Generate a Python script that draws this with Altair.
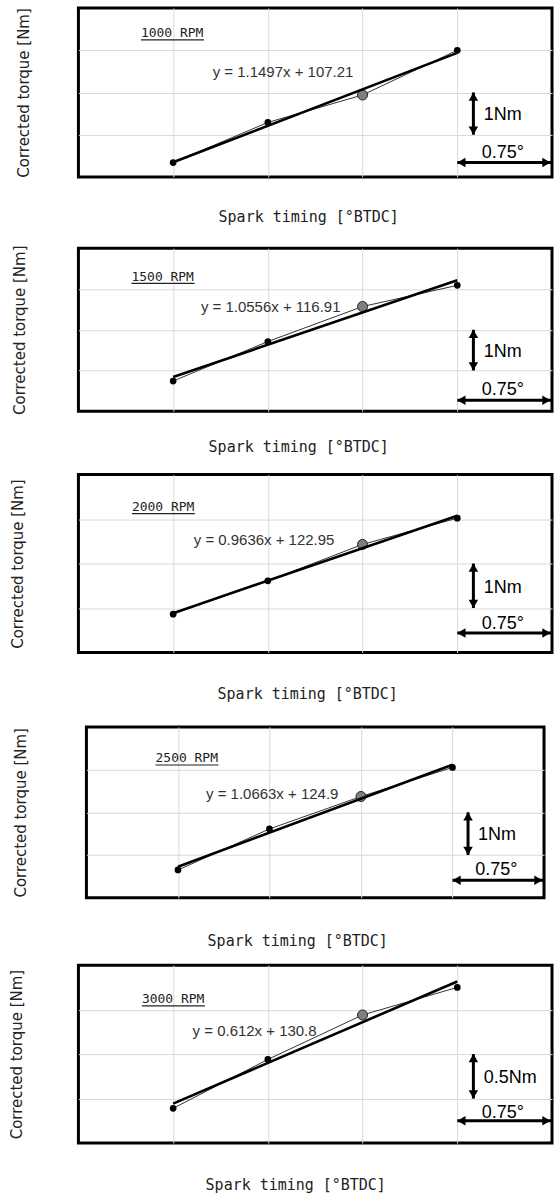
import altair as alt
import pandas as pd

# ---------------- data ----------------
rpm_labels = ["1000 RPM", "1500 RPM", "2000 RPM", "2500 RPM", "3000 RPM"]
spark_timing = [10.0, 10.75, 11.5, 12.25]          # °BTDC, 0.75° apart
torque_1000 = [118.70, 119.65, 120.30, 121.36]
torque_1500 = [127.37, 128.34, 129.20, 129.72]
torque_2000 = [132.55, 133.30, 134.12, 134.71]
torque_2500 = [135.49, 136.45, 137.21, 137.89]
torque_3000 = [136.87, 137.42, 137.92, 138.23]
is_reference = [False, False, True, False]          # the grey marker
fit_equations = ["y = 1.1497x + 107.21", "y = 1.0556x + 116.91",
                 "y = 0.9636x + 122.95", "y = 1.0663x + 124.9",
                 "y = 0.612x + 130.8"]
torque_grid = [1.0, 1.0, 1.0, 1.0, 0.5]              # Nm between grid lines
torque_grid_labels = ["1Nm", "1Nm", "1Nm", "1Nm", "0.5Nm"]
axis_floor = [118.36, 126.63, 131.69, 134.84, 136.48]  # torque at frame bottom
timing_step = 0.75
timing_label = "0.75°"
torques = [torque_1000, torque_1500, torque_2000, torque_2500, torque_3000]

# ---------------- layout ----------------
panel_w = [474, 474, 474, 458, 474]
panel_h = [169, 163, 178, 171, 178]
x_title_pad = [33, 28, 34, 36, 35]
x_title_dx = [-7, -17, -8, -18, -20]
y_title_pad = [46.5, 50.5, 52.5, 57.5, 53.5]
top_gap = [0, 3.7, 4.5, 9.1, 0]
label_pos = [(0.66, 3.40), (0.56, 3.30), (0.565, 3.27), (0.755, 3.26), (0.67, 3.23)]
eq_pos = [(2.16, 2.48), (2.03, 2.56), (1.96, 2.52), (2.03, 2.44), (1.86, 2.52)]
hbar_y = [0.34, 0.27, 0.44, 0.41, 0.50]
hbar_text_y = [0.56, 0.52, 0.64, 0.64, 0.68]

HEAD = 90
HEAD_H = 0.433 * HEAD ** 0.5


def panel(i):
    g = torque_grid[i]
    y0 = axis_floor[i]
    W, H = panel_w[i], panel_h[i]
    xmin = spark_timing[0] - timing_step
    xmax = spark_timing[-1] + timing_step
    px_step = W / ((xmax - xmin) / timing_step)
    y_per_px = 4 * g / H
    x_per_px = timing_step / px_step

    xaxis = alt.Axis(values=spark_timing, grid=True, gridColor="#d9d9d9", gridWidth=1,
                     labels=False, ticks=False, domain=False,
                     title="Spark timing [°BTDC]", titlePadding=x_title_pad[i],
                     titleFont="DejaVu Sans Mono", titleFontSize=15,
                     titleFontWeight="normal", titleColor="#222",
                     titleX=W / 2 + x_title_dx[i], minExtent=0, maxExtent=0)
    yaxis = alt.Axis(values=[y0 + g, y0 + 2 * g, y0 + 3 * g], grid=True,
                     gridColor="#d9d9d9", gridWidth=1,
                     labels=False, ticks=False, domain=False,
                     title="Corrected torque [Nm]", titlePadding=y_title_pad[i],
                     titleFont="DejaVu Sans", titleFontSize=15,
                     titleFontWeight="normal", titleColor="#222",
                     minExtent=0, maxExtent=0)
    X = alt.X("x:Q", scale=alt.Scale(domain=[xmin, xmax], nice=False, zero=False), axis=xaxis)
    Y = alt.Y("y:Q", scale=alt.Scale(domain=[y0, y0 + 4 * g], nice=False, zero=False), axis=yaxis)

    pts = pd.DataFrame({"x": spark_timing, "y": torques[i], "ref": is_reference})

    thin = alt.Chart(pts).mark_line(color="#333", strokeWidth=1).encode(x=X, y=Y)
    dots = alt.Chart(pts).transform_filter("!datum.ref").mark_circle(
        color="black", size=45, opacity=1).encode(x=X, y=Y)
    refdot = alt.Chart(pts).transform_filter("datum.ref").mark_point(
        shape="circle", filled=True, fill="#7f7f7f", stroke="#222", strokeWidth=1,
        size=100, opacity=1).encode(x=X, y=Y)
    fit = alt.Chart(pts).transform_regression("x", "y").mark_line(
        color="black", strokeWidth=2.6).encode(x=X, y=Y)

    lx = xmin + label_pos[i][0] * timing_step
    ly = y0 + label_pos[i][1] * g
    label = alt.Chart(pd.DataFrame({"x": [lx], "y": [ly], "t": [rpm_labels[i]]})).mark_text(
        align="left", baseline="middle", font="DejaVu Sans Mono", fontSize=13,
        color="#222").encode(x=X, y=Y, text="t:N")
    underline = alt.Chart(pd.DataFrame({"x": [lx], "x2": [lx + 63 * x_per_px],
                                        "y": [ly - 6.5 * y_per_px]})).mark_rule(
        color="#222", strokeWidth=1.2).encode(x=X, x2="x2:Q", y=Y)

    eq = alt.Chart(pd.DataFrame({"x": [xmin + eq_pos[i][0] * timing_step],
                                 "y": [y0 + eq_pos[i][1] * g],
                                 "t": [fit_equations[i]]})).mark_text(
        align="center", baseline="middle", font="Liberation Sans", fontSize=15,
        color="#333").encode(x=X, y=Y, text="t:N")

    vx = xmin + 4.17 * timing_step
    vshaft = alt.Chart(pd.DataFrame({"x": [vx], "y": [y0 + g], "y2": [y0 + 2 * g]})).mark_rule(
        color="black", strokeWidth=3).encode(x=X, y=Y, y2="y2:Q")
    vup = alt.Chart(pd.DataFrame({"x": [vx], "y": [y0 + 2 * g]})).mark_point(
        shape="triangle-up", filled=True, color="black", size=HEAD, opacity=1,
        yOffset=HEAD_H).encode(x=X, y=Y)
    vdown = alt.Chart(pd.DataFrame({"x": [vx], "y": [y0 + g]})).mark_point(
        shape="triangle-down", filled=True, color="black", size=HEAD, opacity=1,
        yOffset=-HEAD_H).encode(x=X, y=Y)
    vtext = alt.Chart(pd.DataFrame({"x": [xmin + 4.28 * timing_step], "y": [y0 + 1.46 * g],
                                    "t": [torque_grid_labels[i]]})).mark_text(
        align="left", baseline="middle", font="Liberation Sans", fontSize=18,
        color="black").encode(x=X, y=Y, text="t:N")

    hy = y0 + hbar_y[i] * g
    hshaft = alt.Chart(pd.DataFrame({"x": [spark_timing[-1]], "x2": [xmax], "y": [hy]})).mark_rule(
        color="black", strokeWidth=3).encode(x=X, x2="x2:Q", y=Y)
    hleft = alt.Chart(pd.DataFrame({"x": [spark_timing[-1]], "y": [hy]})).mark_point(
        shape="triangle-left", filled=True, color="black", size=HEAD, opacity=1,
        xOffset=HEAD_H).encode(x=X, y=Y)
    hright = alt.Chart(pd.DataFrame({"x": [xmax], "y": [hy]})).mark_point(
        shape="triangle-right", filled=True, color="black", size=HEAD, opacity=1,
        xOffset=-HEAD_H - 1.5).encode(x=X, y=Y)
    htext = alt.Chart(pd.DataFrame({"x": [xmin + 4.48 * timing_step],
                                    "y": [y0 + hbar_text_y[i] * g],
                                    "t": [timing_label]})).mark_text(
        align="center", baseline="middle", font="Liberation Sans", fontSize=18,
        color="black").encode(x=X, y=Y, text="t:N")

    ch = alt.layer(thin, dots, refdot, fit, label, underline, eq,
                   vshaft, vup, vdown, vtext, hshaft, hleft, hright, htext)
    props = dict(width=W, height=H)
    if top_gap[i] > 0:
        props["title"] = alt.TitleParams(" ", fontSize=1, offset=top_gap[i] - 1)
    return ch.properties(**props)


chart = alt.vconcat(*[panel(i) for i in range(5)], spacing=12.5, center=True).properties(
    padding={"left": 8.5, "top": 5.5, "right": 0, "bottom": 0},
    background="white",
).configure_view(stroke="black", strokeWidth=3)

chart.save("out.html", embed_options={"renderer": "svg", "actions": False})
